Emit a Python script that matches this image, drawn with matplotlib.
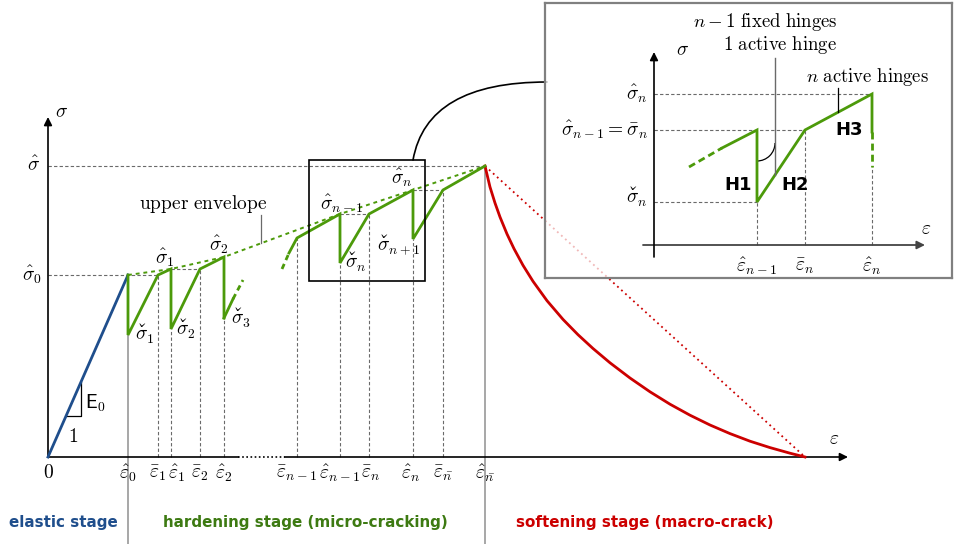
import numpy as np
import matplotlib
matplotlib.use("Agg")
import matplotlib.pyplot as plt
from matplotlib import _mathtext
from matplotlib.patches import Rectangle, Arc

# mathtext knows no \check accent, so register one (spacing caron)
_mathtext.Parser._accent_map['check'] = '\u02c7'

plt.rcParams['mathtext.fontset'] = 'cm'
plt.rcParams['font.family'] = ['DejaVu Sans']

BLUE = '#1f4e8c'
GREEN = '#4c9a0a'
GREEN_TXT = '#3d7a12'
RED = '#cc0000'
GRAY = '#a0a0a0'
DGRAY = '#6a6a6a'
FS = 14

# ---- main curve (schematic units) ----
# peaks (hat), reload points (bar), drops (check)
eps_hat = [80, 123, 176, 292, 365, 437]          # e0, e1, e2, e(n-1), e(n), e(nbar)
sig_hat = [182, 188, 200, 243, 267, 291]
eps_bar = [110, 152, 249, 321, 395]              # e1, e2, e(n-1), e(n), e(nbar)
sig_bar = [182, 188, 219, 243, 267]
sig_chk = [122, 128, 139, 194, 218]              # s1, s2, s3, s(n), s(n+1)

# partial branches that fade out / in (solid part, dashed part)
tail_a_eps = [176, 185, 195]
tail_a_sig = [139, 158, 177]
tail_b_eps = [234, 241, 249]
tail_b_sig = [188, 204, 219]

# softening branch
soft_eps = [437, 442, 447, 452, 459, 466, 475, 485, 499, 515, 530, 545, 562,
            582, 602, 622, 642, 662, 682, 702, 722, 742, 757]
soft_sig = [291, 270, 254, 240, 223, 208.3, 191.7, 175.7, 156.3, 137.6, 122.3, 108.5, 94.2,
            79, 65.2, 52.8, 41.8, 32, 23.4, 15.8, 9.4, 3.8, 0]

eps_tick_labels = [r'$\hat{\varepsilon}_0$', r'$\bar{\varepsilon}_1$', r'$\hat{\varepsilon}_1$',
                   r'$\bar{\varepsilon}_2$', r'$\hat{\varepsilon}_2$', r'$\bar{\varepsilon}_{n-1}$',
                   r'$\hat{\varepsilon}_{n-1}$', r'$\bar{\varepsilon}_n$', r'$\hat{\varepsilon}_n$',
                   r'$\bar{\varepsilon}_{\bar{n}}$', r'$\hat{\varepsilon}_{\bar{n}}$']
eps_tick_shift = [0, 0, 6, 0, 0, 0, 0, 2, -2, 0, 0]

fig = plt.figure(figsize=(9.55, 5.44), dpi=100)
ax = fig.add_axes([0, 0, 1, 1])
ax.set_xlim(-48, 907)
ax.set_ylim(-87, 457)
ax.axis('off')

dash_kw = dict(color=DGRAY, lw=0.8, ls=(0, (3, 2)), zorder=1)

# axes with arrows
ax.plot([0, 190], [0, 0], color='k', lw=1.2, zorder=2)
ax.plot([190, 237], [0, 0], color='k', lw=1.2, ls=(0, (1, 1.5)), zorder=2)
ax.annotate('', xy=(800, 0), xytext=(237, 0),
            arrowprops=dict(arrowstyle='-|>', lw=1.2, color='k', mutation_scale=12, shrinkA=0, shrinkB=0))
ax.annotate('', xy=(0, 340), xytext=(0, 0),
            arrowprops=dict(arrowstyle='-|>', lw=1.2, color='k', mutation_scale=12, shrinkA=0, shrinkB=0))
ax.text(14, 345, r'$\sigma$', fontsize=FS, ha='center', va='center')
ax.text(786, 18, r'$\varepsilon$', fontsize=FS, ha='center', va='center')

# horizontal guides
ax.plot([0, eps_hat[-1]], [sig_hat[-1]] * 2, **dash_kw)
ax.plot([0, eps_bar[0]], [sig_hat[0]] * 2, **dash_kw)
ax.plot([eps_hat[1], eps_bar[1]], [sig_hat[1]] * 2, **dash_kw)
ax.plot([eps_hat[3], eps_bar[3]], [sig_hat[3]] * 2, **dash_kw)
ax.plot([eps_hat[4], eps_bar[4]], [sig_hat[4]] * 2, **dash_kw)

# vertical guides
for e, s in zip(eps_bar, sig_bar):
    ax.plot([e, e], [0, s], **dash_kw)
for e, s in zip([eps_hat[1], eps_hat[2], eps_hat[3], eps_hat[4]],
                [sig_chk[1], sig_chk[2], sig_chk[3], sig_chk[4]]):
    ax.plot([e, e], [0, s], **dash_kw)
ax.plot([eps_hat[0]] * 2, [-87, sig_chk[0]], color=GRAY, lw=1.3, zorder=1, clip_on=False)
ax.plot([eps_hat[-1]] * 2, [-87, sig_hat[-1]], color=GRAY, lw=1.3, zorder=1, clip_on=False)

# elastic branch
ax.plot([0, eps_hat[0]], [0, sig_hat[0]], color=BLUE, lw=2, zorder=3)
E0 = sig_hat[0] / eps_hat[0]
ea, eb = 18, 33
ax.plot([ea, eb, eb], [E0 * ea, E0 * ea, E0 * eb], color='k', lw=0.9, zorder=2)
ax.text(37, 54, r'$\mathsf{E}_0$', fontsize=FS, ha='left', va='center')
ax.text(25, 21, r'$1$', fontsize=FS, ha='center', va='center')

# hardening branches
br1_e = [eps_hat[0], eps_hat[0], eps_bar[0], eps_hat[1], eps_hat[1], eps_bar[1], eps_hat[2], eps_hat[2]]
br1_s = [sig_hat[0], sig_chk[0], sig_bar[0], sig_hat[1], sig_chk[1], sig_bar[1], sig_hat[2], sig_chk[2]]
ax.plot(br1_e, br1_s, color=GREEN, lw=2, zorder=4, solid_joinstyle='miter')
ax.plot(tail_a_eps[:2], tail_a_sig[:2], color=GREEN, lw=2, zorder=4)
ax.plot(tail_a_eps[1:], tail_a_sig[1:], color=GREEN, lw=2, ls=(0, (2, 1.5)), zorder=4)
ax.plot(tail_b_eps[:2], tail_b_sig[:2], color=GREEN, lw=2, ls=(0, (2, 1.5)), zorder=4)
br2_e = [tail_b_eps[1], eps_bar[2], eps_hat[3], eps_hat[3], eps_bar[3], eps_hat[4], eps_hat[4], eps_bar[4], eps_hat[5]]
br2_s = [tail_b_sig[1], sig_bar[2], sig_hat[3], sig_chk[3], sig_bar[3], sig_hat[4], sig_chk[4], sig_bar[4], sig_hat[5]]
ax.plot(br2_e, br2_s, color=GREEN, lw=2, zorder=4, solid_joinstyle='miter')

# upper envelope through the peaks
ax.plot(eps_hat, sig_hat, color=GREEN, lw=1.4, ls=(0, (2, 2)), zorder=3)
ax.plot([213, 213], [214, 242], color=DGRAY, lw=0.9)
ax.text(155, 253, r'$\mathrm{upper\ envelope}$', fontsize=FS, ha='center', va='center')

# softening branch
ax.plot(soft_eps, soft_sig, color=RED, lw=2, zorder=3, solid_joinstyle='round')
ax.plot([soft_eps[0], soft_eps[-1]], [soft_sig[0], soft_sig[-1]], color=RED, lw=1.3,
        ls=(0, (1, 2)), zorder=2)

# peak / drop labels
ax.text(-8, sig_hat[-1], r'$\hat{\sigma}$', fontsize=FS, ha='right', va='center')
ax.text(-6, sig_hat[0], r'$\hat{\sigma}_0$', fontsize=FS, ha='right', va='center')
hat_lbl = [(117, 199, r'$\hat{\sigma}_1$'), (171, 212, r'$\hat{\sigma}_2$'),
           (294, 253, r'$\hat{\sigma}_{n-1}$'), (354, 279, r'$\hat{\sigma}_n$')]
for x, y, t in hat_lbl:
    ax.text(x, y, t, fontsize=FS, ha='center', va='center', zorder=5)
chk_lbl = [(87, 116, '1'), (128, 121, '2'), (183, 132, '3'), (297, 188, 'n'), (329, 206, 'n+1')]
for x, y, sub in chk_lbl:
    ax.text(x, y, r'$\check{\sigma}_{%s}$' % sub, fontsize=FS, ha='left', va='baseline', zorder=5)

# strain tick labels
tick_pos = [eps_hat[0], eps_bar[0], eps_hat[1], eps_bar[1], eps_hat[2], eps_bar[2],
            eps_hat[3], eps_bar[3], eps_hat[4], eps_bar[4], eps_hat[5]]
ax.text(0, -15, r'$0$', fontsize=FS, ha='center', va='center')
for p, d, t in zip(tick_pos, eps_tick_shift, eps_tick_labels):
    ax.text(p + d, -16, t, fontsize=FS, ha='center', va='center')

# stage captions
ax.text(15, -65, 'elastic stage', color=BLUE, fontsize=10.9, fontweight='bold', ha='center', va='center')
ax.text(257, -65, 'hardening stage (micro-cracking)', color=GREEN_TXT, fontsize=10.9,
        fontweight='bold', ha='center', va='center')
ax.text(597, -65, 'softening stage (macro-crack)', color=RED, fontsize=10.9,
        fontweight='bold', ha='center', va='center')

# zoom box and connector
ax.add_patch(Rectangle((261, 176), 116, 121, fill=False, ec='k', lw=1.2, zorder=5))
ax.annotate('', xy=(499, 375), xytext=(365, 297),
            arrowprops=dict(arrowstyle='-', lw=1.2, color='k', shrinkA=0, shrinkB=0,
                            connectionstyle='angle3,angleA=80,angleB=0'))

# ---- inset: detail of one step ----
in_eps = [103, 151, 218]           # e_hat(n-1), e_bar(n), e_hat(n)
in_sig = [151, 115, 43]            # s_hat(n), s_hat(n-1)=s_bar(n), s_check(n)
in_eps_lbl = [r'$\hat{\varepsilon}_{n-1}$', r'$\bar{\varepsilon}_n$', r'$\hat{\varepsilon}_n$']
in_sig_lbl = [r'$\hat{\sigma}_n$', r'$\hat{\sigma}_{n-1} = \bar{\sigma}_n$']

ins = fig.add_axes([545 / 955, (544 - 278) / 544, 407 / 955, 275 / 544])
ins.set_xlim(-109, 298)
ins.set_ylim(-33, 242)
ins.set_xticks([])
ins.set_yticks([])
ins.set_facecolor((1, 1, 1, 0.72))
for sp in ins.spines.values():
    sp.set_color('#808080')
    sp.set_linewidth(1.6)

ins.annotate('', xy=(271, 0), xytext=(-11, 0),
             arrowprops=dict(arrowstyle='-|>', lw=1.3, color='#444444', mutation_scale=12, shrinkA=0, shrinkB=0))
ins.annotate('', xy=(0, 193), xytext=(0, -12),
             arrowprops=dict(arrowstyle='-|>', lw=1.2, color='k', mutation_scale=12, shrinkA=0, shrinkB=0))
ins.text(29, 195, r'$\sigma$', fontsize=FS, ha='center', va='center')
ins.text(272, 17, r'$\varepsilon$', fontsize=FS, ha='center', va='center')

ins.plot([0, in_eps[2]], [in_sig[0]] * 2, **dash_kw)
ins.plot([0, in_eps[1]], [in_sig[1]] * 2, **dash_kw)
ins.plot([0, in_eps[0]], [in_sig[2]] * 2, **dash_kw)
ins.plot([in_eps[0]] * 2, [0, in_sig[2]], **dash_kw)
ins.plot([in_eps[1]] * 2, [0, in_sig[1]], **dash_kw)
ins.plot([in_eps[2]] * 2, [0, 78], **dash_kw)

ins.plot([35, 68], [78, 97], color=GREEN, lw=2, ls=(0, (2.5, 1.5)))
ins.plot([68, in_eps[0], in_eps[0], in_eps[1], in_eps[2], in_eps[2]],
         [97, in_sig[1], in_sig[2], in_sig[1], in_sig[0], 113], color=GREEN, lw=2,
         solid_joinstyle='miter')
ins.plot([in_eps[2], in_eps[2]], [113, 78], color=GREEN, lw=2, ls=(0, (2.5, 1.5)))

for p, t in zip(in_eps, in_eps_lbl):
    ins.text(p, -21, t, fontsize=FS, ha='center', va='center')
for s, t in zip(in_sig[:2], in_sig_lbl):
    ins.text(-6, s, t, fontsize=FS, ha='right', va='center')
ins.text(-6, in_sig[2] - 2, r'$\check{\sigma}_n$', fontsize=FS, ha='right', va='baseline')

ins.text(84, 60, 'H1', fontsize=13, fontweight='bold', ha='center', va='center')
ins.text(141, 60, 'H2', fontsize=13, fontweight='bold', ha='center', va='center')
ins.text(195, 115, 'H3', fontsize=13, fontweight='bold', ha='center', va='center')

# hinge annotations
ins.plot([121, 121], [70, 187], color=DGRAY, lw=1.0)
ins.add_patch(Arc((103, 102), 36, 36, theta1=270, theta2=360, color='k', lw=0.9))
ins.text(111, 223, r'$n-1\ \mathrm{fixed\ hinges}$', fontsize=13.5, ha='center', va='center')
ins.text(126, 200, r'$1\ \mathrm{active\ hinge}$', fontsize=13.5, ha='center', va='center')
ins.plot([184, 184], [133, 157], color='k', lw=0.9)
ins.text(214, 168, r'$n\ \mathrm{active\ hinges}$', fontsize=13.5, ha='center', va='center')

fig.savefig('out.png', dpi=100)
